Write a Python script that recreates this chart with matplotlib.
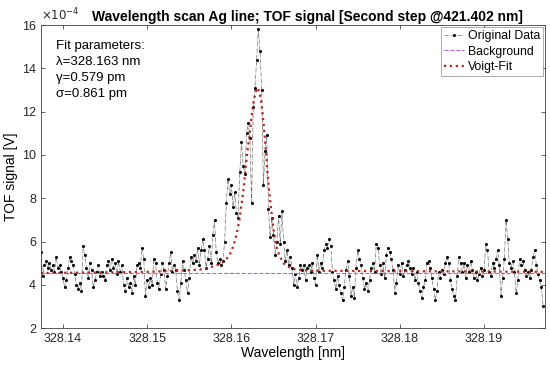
import numpy as np
import matplotlib
matplotlib.use("Agg")
import matplotlib.pyplot as plt

plt.rcParams['font.family'] = ['Liberation Sans', 'DejaVu Sans']

# scan grid (nm)
wl_start = 328.1374
wl_step = 0.0002

# TOF signal, units of 1e-4 V
tof = [5.5, 4.4, 4.9, 5.1, 4.8, 5.0, 4.7, 4.9, 4.6, 5.3, 4.8, 4.9, 4.6,
       4.3, 3.9, 4.2, 4.8, 5.3, 5.1, 4.9, 4.5, 4.0, 3.8, 4.1, 3.7,
       5.8, 5.4, 4.8, 4.3, 5.0, 4.7, 3.9, 4.2, 4.6, 4.9, 4.4, 4.6,
       4.4, 4.2, 4.9, 5.1, 4.7, 5.2, 4.8, 5.0, 4.5, 5.1, 4.6, 4.9,
       4.0, 3.7, 4.3, 3.9, 4.1, 3.6, 4.4, 4.0, 4.9, 5.0, 4.8, 5.7,
       5.2, 3.5, 4.2, 3.9, 4.3, 4.0, 5.2, 5.0, 4.1, 3.8, 4.5, 5.0,
       4.7, 3.8, 4.4, 5.0, 5.5, 4.6, 4.9, 4.7, 3.7, 3.3, 4.1, 5.1,
       4.7, 4.2, 3.6, 4.3, 5.3, 5.0, 5.4, 5.1, 5.7, 4.9, 5.6, 6.1,
       5.6, 4.8, 5.2, 5.8, 5.0, 6.3, 7.0, 5.5, 5.0, 5.2, 4.9, 5.1,
       6.0, 7.8, 8.9, 8.2, 8.6, 7.6, 8.3, 7.3, 7.1, 9.2, 10.6, 9.5,
       9.1, 11.0, 11.5, 10.8, 7.8, 12.2, 13.1, 14.4, 15.8, 14.8, 13.0, 8.6,
       10.2, 10.9, 7.5, 6.2, 7.1, 6.3, 5.4, 6.0, 7.2, 5.9, 7.4, 6.0,
       5.1, 5.6, 4.9, 5.3, 4.8, 4.0, 4.5, 3.9, 4.3, 4.9, 4.7, 4.9,
       4.2, 4.8, 4.9, 4.6, 5.0, 4.3, 4.0, 5.4, 4.6, 5.0, 4.8, 5.6,
       5.9, 5.7, 6.1, 5.8, 4.6, 4.2, 3.8, 4.4, 4.0, 3.6, 3.3, 3.9,
       4.7, 5.1, 4.4, 3.5, 3.9, 3.4, 4.8, 5.6, 5.2, 4.9, 4.3, 3.8,
       4.1, 3.7, 4.2, 4.8, 5.0, 4.6, 5.9, 5.7, 4.9, 4.5, 5.0, 4.3,
       5.4, 5.7, 5.5, 5.2, 4.7, 3.6, 4.1, 4.9, 4.5, 5.0, 4.4, 4.7,
       4.9, 5.1, 4.8, 4.5, 4.8, 4.2, 4.6, 4.1, 3.7, 3.4, 3.9, 4.2,
       5.0, 5.1, 4.8, 4.3, 3.8, 3.3, 3.7, 4.6, 4.3, 4.7, 4.5, 5.0,
       5.3, 5.0, 4.2, 3.8, 3.5, 3.3, 4.4, 5.3, 5.0, 4.6, 5.0, 4.3,
       4.9, 4.6, 5.1, 4.7, 4.3, 4.6, 4.2, 4.5, 4.8, 4.4, 4.7, 5.9,
       5.6, 4.6, 4.4, 5.0, 4.8, 5.2, 5.6, 4.9, 3.5, 4.3, 5.2, 7.0,
       6.1, 5.0, 4.8, 5.1, 4.6, 3.6, 4.2, 5.2, 4.9, 5.1, 4.7, 4.4,
       4.6, 4.3, 4.7, 5.3, 5.6, 4.9, 4.5, 4.2, 3.9, 3.0]

# Voigt fit curve (units of 1e-4 V)
fit_wl = [328.13735, 328.14435, 328.15028, 328.15622, 328.15740, 328.15859,
          328.15918, 328.15977, 328.16025, 328.16060, 328.16096, 328.16120,
          328.16144, 328.16167, 328.16191, 328.16215, 328.16238, 328.16262,
          328.16286, 328.16310, 328.16333, 328.16357, 328.16381, 328.16405,
          328.16428, 328.16452, 328.16476, 328.16499, 328.16523, 328.16547,
          328.16571, 328.16618, 328.16665, 328.16749, 328.16926, 328.19714]
fit_val = [4.55, 4.57, 4.6, 4.7, 4.8, 4.95,
           5.1, 5.35, 5.8, 6.3, 7.0, 7.7,
           8.4, 9.3, 10.2, 10.9, 11.7, 12.4,
           12.9, 13.1, 12.9, 12.4, 11.5, 10.4,
           9.2, 8.2, 7.35, 6.6, 6.0, 5.6,
           5.35, 5.0, 4.85, 4.72, 4.65, 4.6]

background = 4.55
xlim = (328.1374, 328.1972)
xticks = [328.14, 328.15, 328.16, 328.17, 328.18, 328.19]
yticks = [2, 4, 6, 8, 10, 12, 14, 16]

wl = wl_start + wl_step * np.arange(len(tof))

fig = plt.figure(figsize=(5.5, 3.72), dpi=100)
ax = fig.add_axes([0.0745, 0.118, 0.916, 0.8145])

ax.plot(wl, tof, color='#606060', ls='-.', lw=0.45, marker='.', ms=2.4,
        mfc='k', mec='k', label='Original Data')
ax.plot(xlim, [background] * 2, color='#b760e0', ls='--', lw=0.8,
        label='Background')
ax.plot(fit_wl, fit_val, color='#b3261b', ls=':', lw=1.6,
        label='Voigt-Fit')

ax.set_xlim(xlim)
ax.set_ylim(2, 16)
ax.set_xticks(xticks)
ax.set_xticklabels(['%.2f' % t for t in xticks])
ax.set_yticks(yticks)

# MATLAB-style exponent label at top-left
ax.text(0.0, 1.005, r'$\times10^{-4}$', transform=ax.transAxes,
        ha='left', va='bottom', fontsize=8.5, color='#262626')

ax.tick_params(direction='in', top=True, right=True, labelsize=9,
               length=3, width=0.5, colors='#262626')
for s in ax.spines.values():
    s.set_linewidth(0.6)
    s.set_color('#404040')

ax.set_xlabel('Wavelength [nm]', fontsize=10, labelpad=1)
ax.set_ylabel('TOF signal [V]', fontsize=10, labelpad=3)
ax.set_title('Wavelength scan Ag line; TOF signal [Second step @421.402 nm]',
             fontsize=10, fontweight='bold', pad=3, x=0.528)

ax.text(0.03, 0.95, 'Fit parameters:\nλ=328.163 nm\nγ=0.579 pm\nσ=0.861 pm',
        transform=ax.transAxes, va='top', ha='left', fontsize=9.5,
        linespacing=1.45)

leg = ax.legend(loc='upper right', fontsize=8.8, frameon=True, fancybox=False,
                borderaxespad=0.15, handlelength=1.6, handletextpad=0.3,
                borderpad=0.25, labelspacing=0.3)
leg.get_frame().set_edgecolor('#888888')
leg.get_frame().set_linewidth(0.6)

fig.savefig('out.png', dpi=100)
